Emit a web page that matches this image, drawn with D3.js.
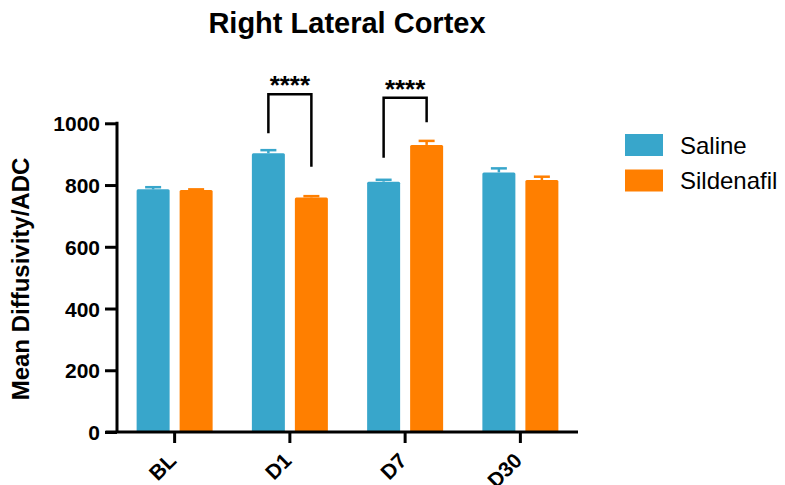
<!DOCTYPE html>
<html>
<head>
<meta charset="utf-8">
<script src="https://cdn.jsdelivr.net/npm/d3@7"></script>
<style>
  body { margin: 0; background: #fff; }
  svg { font-family: 'Liberation Sans', Arial, sans-serif; }
</style>
</head>
<body>
<div id="chart1"></div>
<script>
'use strict';

// data
var categories = ['BL', 'D1', 'D7', 'D30'];
var seriesNames = ['Saline', 'Sildenafil'];
var salineMeans = [786, 903, 811, 841];
var salineErr = [7, 10, 6, 13];
var sildenafilMeans = [784, 760, 930, 816];
var sildenafilErr = [2, 4, 13, 11];
var yTicks = [0, 200, 400, 600, 800, 1000];
// brackets: category, left-foot value, top value, right-foot value, label
var brackets = [
  { cat: 'D1', left: 968, top: 1094, right: 859, label: '****' },
  { cat: 'D7', left: 888, top: 1083, right: 1003, label: '****' }
];

var colors = ['#38a6cb', '#ff7f00'];

var width = 785, height = 485;

var svg = d3.select('#chart1').append('svg')
  .attr('width', width)
  .attr('height', height);

var x = d3.scaleBand()
  .domain(categories)
  .range([117, 578])
  .padding(0);

var y = d3.scaleLinear()
  .domain([0, 1000])
  .range([432, 123.3]);

var barW = 33;
var barGap = 10;
var offset = function(i) {
  // i = 0 saline, 1 sildenafil
  return i === 0 ? -barGap / 2 - barW : barGap / 2;
};
var center = function(c) { return x(c) + x.bandwidth() / 2; };

var rows = [];
categories.forEach(function(c, j) {
  rows.push({ cat: c, s: 0, v: salineMeans[j], e: salineErr[j] });
  rows.push({ cat: c, s: 1, v: sildenafilMeans[j], e: sildenafilErr[j] });
});

var g = svg.append('g');

// error bars (drawn first so bar covers the stem)
g.selectAll('line.err')
  .data(rows)
  .enter()
  .append('line')
  .attr('x1', function(d) { return center(d.cat) + offset(d.s) + barW / 2; })
  .attr('x2', function(d) { return center(d.cat) + offset(d.s) + barW / 2; })
  .attr('y1', function(d) { return y(d.v); })
  .attr('y2', function(d) { return y(d.v + d.e); })
  .style('stroke', function(d) { return colors[d.s]; })
  .style('stroke-width', 2.5);

g.selectAll('line.cap')
  .data(rows)
  .enter()
  .append('line')
  .attr('x1', function(d) { return center(d.cat) + offset(d.s) + barW / 2 - 8; })
  .attr('x2', function(d) { return center(d.cat) + offset(d.s) + barW / 2 + 8; })
  .attr('y1', function(d) { return y(d.v + d.e); })
  .attr('y2', function(d) { return y(d.v + d.e); })
  .style('stroke', function(d) { return colors[d.s]; })
  .style('stroke-width', 2.5);

g.selectAll('rect.bar')
  .data(rows)
  .enter()
  .append('rect')
  .attr('x', function(d) { return center(d.cat) + offset(d.s); })
  .attr('y', function(d) { return y(d.v); })
  .attr('width', barW)
  .attr('height', function(d) { return y(0) - y(d.v); })
  .attr('rx', 1.5)
  .style('fill', function(d) { return colors[d.s]; });

// axes
var yAxis = d3.axisLeft(y)
  .tickValues(yTicks)
  .tickFormat(d3.format('d'))
  .tickSize(12)
  .tickPadding(5);

var yg = svg.append('g')
  .attr('transform', 'translate(117,0)')
  .call(yAxis);
yg.select('.domain').attr('d', 'M0,' + (y(1000) - 1.5) + 'V' + y(0)).style('stroke-width', 3);
yg.selectAll('.tick line').style('stroke-width', 3);
yg.selectAll('.tick text')
  .style('font-size', '21px')
  .style('font-weight', 'bold')
  .attr('dy', '0.36em');

var xAxis = d3.axisBottom(x)
  .tickSize(11)
  .tickPadding(4);

var xg = svg.append('g')
  .attr('transform', 'translate(0,' + y(0) + ')')
  .call(xAxis);
xg.select('.domain').attr('d', 'M105.5,0H578').style('stroke-width', 3);
xg.selectAll('.tick line').style('stroke-width', 3);
xg.selectAll('.tick text')
  .style('font-size', '21px')
  .style('font-weight', 'bold')
  .style('text-anchor', 'end')
  .attr('dy', null)
  .attr('y', 0)
  .attr('transform', 'translate(3,30) rotate(-45)');

// significance brackets
brackets.forEach(function(b) {
  var xl = center(b.cat) + offset(0) + barW / 2;
  var xr = center(b.cat) + offset(1) + barW / 2;
  svg.append('path')
    .attr('d', 'M' + xl + ',' + y(b.left) + 'V' + y(b.top) + 'H' + xr + 'V' + y(b.right))
    .style('fill', 'none')
    .style('stroke', '#000')
    .style('stroke-width', 2.5);
  svg.append('text')
    .attr('x', (xl + xr) / 2)
    .attr('y', y(b.top))
    .attr('text-anchor', 'middle')
    .style('font-size', '26px')
    .style('font-weight', 'bold')
    .text(b.label);
});

// title
svg.append('text')
  .attr('x', 347)
  .attr('y', 33)
  .attr('text-anchor', 'middle')
  .style('font-size', '29px')
  .style('font-weight', 'bold')
  .text('Right Lateral Cortex');

// y label
svg.append('text')
  .attr('transform', 'translate(29,' + 279 + ') rotate(-90)')
  .attr('text-anchor', 'middle')
  .style('font-size', '24px')
  .style('font-weight', 'bold')
  .text('Mean Diffusivity/ADC');

// legend
var legend = svg.append('g')
  .attr('transform', 'translate(625,134)');
var items = legend.selectAll('g')
  .data(seriesNames)
  .enter()
  .append('g')
  .attr('transform', function(d, i) { return 'translate(0,' + i * 35.5 + ')'; });
items.append('rect')
  .attr('width', 38)
  .attr('height', 22)
  .style('fill', function(d, i) { return colors[i]; });
items.append('text')
  .attr('x', 55)
  .attr('y', 11)
  .attr('dy', '0.36em')
  .style('font-size', '24px')
  .text(function(d) { return d; });
</script>
</body>
</html>
